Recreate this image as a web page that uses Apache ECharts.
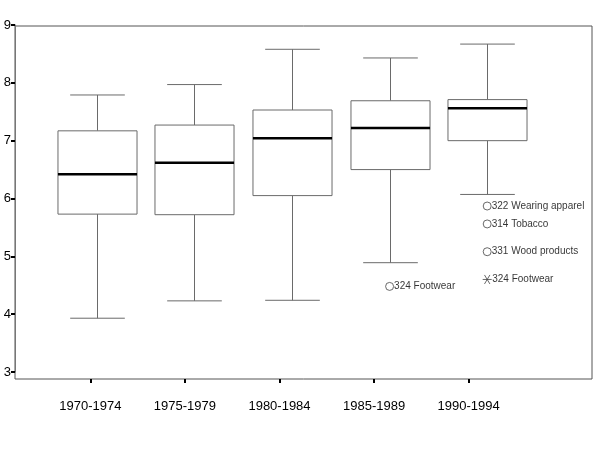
<!DOCTYPE html>
<html>
<head>
<meta charset="utf-8">
<style>
  html, body { margin: 0; padding: 0; background: #fff; }
  #main { width: 593px; height: 468px; }
</style>
<script src="https://cdn.jsdelivr.net/npm/echarts@6/dist/echarts.min.js"></script>
</head>
<body>
<div id="main"></div>
<script>
// 期间分类
var periods = ['1970-1974', '1975-1979', '1980-1984', '1985-1989', '1990-1994']
// 箱线图数值：下须, Q1, 中位数, Q3, 上须
var lowWhisker = [3.93, 4.23, 4.24, 4.89, 6.07]
var q1 = [5.73, 5.72, 6.05, 6.50, 7.00]
var median = [6.42, 6.62, 7.04, 7.22, 7.56]
var q3 = [7.17, 7.27, 7.53, 7.69, 7.71]
var highWhisker = [7.79, 7.97, 8.58, 8.43, 8.67]
// 离群点（圆圈）
var outlierIdx = [4, 4, 4, 3]
var outlierVal = [5.87, 5.56, 5.08, 4.48]
var outlierName = ['322 Wearing apparel', '314 Tobacco', '331 Wood products', '324 Footwear']
// 极端值（星号）
var extremeIdx = [4]
var extremeVal = [4.60]
var extremeName = ['324 Footwear']
// Y轴刻度
var yTicks = [3, 4, 5, 6, 7, 8, 9]

var boxData = periods.map(function (p, i) {
  return [i, lowWhisker[i], q1[i], median[i], q3[i], highWhisker[i]]
})
var outlierData = outlierIdx.map(function (c, i) {
  return { value: [c, outlierVal[i]], name: outlierName[i] }
})
var extremeData = extremeIdx.map(function (c, i) {
  return { value: [c, extremeVal[i]], name: extremeName[i] }
})

var lineColor = '#6a6a6a'
var labelFont = '"Liberation Sans", Arial, sans-serif'

function renderBox(params, api) {
  var x = api.value(0)
  var lo = api.coord([x, api.value(1)])
  var b1 = api.coord([x, api.value(2)])
  var md = api.coord([x, api.value(3)])
  var b3 = api.coord([x, api.value(4)])
  var hi = api.coord([x, api.value(5)])
  var band = api.size([1, 0])[0]
  var bw = band * 0.81
  var cw = band * 0.56
  var cx = Math.round(lo[0]) + 0.5
  var lineStyle = { stroke: lineColor, lineWidth: 1, fill: null }
  return {
    type: 'group',
    children: [
      // 须线
      { type: 'line', shape: { x1: cx, y1: hi[1], x2: cx, y2: b3[1] }, style: lineStyle },
      { type: 'line', shape: { x1: cx, y1: b1[1], x2: cx, y2: lo[1] }, style: lineStyle },
      { type: 'line', shape: { x1: cx - cw / 2, y1: hi[1], x2: cx + cw / 2, y2: hi[1] }, style: lineStyle },
      { type: 'line', shape: { x1: cx - cw / 2, y1: lo[1], x2: cx + cw / 2, y2: lo[1] }, style: lineStyle },
      // 箱体
      {
        type: 'rect',
        shape: { x: cx - bw / 2, y: b3[1], width: bw, height: b1[1] - b3[1] },
        style: { fill: '#fff', stroke: lineColor, lineWidth: 1 },
      },
      // 中位数
      {
        type: 'line',
        shape: { x1: cx - bw / 2, y1: md[1], x2: cx + bw / 2, y2: md[1] },
        style: { stroke: '#000', lineWidth: 2.5 },
      },
    ],
  }
}

var chart = echarts.init(document.getElementById('main'))
chart.setOption({
  animation: false,
  backgroundColor: '#fff',
  textStyle: { fontFamily: labelFont },
  grid: [
    // 箱线图区域
    { left: 48, right: 57, top: 25, bottom: 96 },
    // X轴标签区域
    { left: 43, right: 77, top: 26, bottom: 89 },
    // 外框
    { left: 15, right: 1, top: 26, bottom: 89, show: true, borderColor: '#555', borderWidth: 1 },
  ],
  xAxis: [
    { gridIndex: 0, type: 'category', data: periods, boundaryGap: true, show: false },
    {
      gridIndex: 1,
      type: 'category',
      data: periods,
      boundaryGap: true,
      axisLine: { show: false },
      axisTick: { show: true, alignWithLabel: true, length: 4, lineStyle: { color: '#000', width: 2 } },
      axisLabel: { color: '#000', fontSize: 13, margin: 21 },
    },
    { gridIndex: 2, type: 'value', show: false },
  ],
  yAxis: [
    {
      gridIndex: 0,
      type: 'value',
      min: yTicks[0],
      max: yTicks[yTicks.length - 1],
      interval: 1,
      offset: 33,
      axisLine: { show: true, lineStyle: { color: '#777' } },
      axisTick: { show: true, length: 4, lineStyle: { color: '#000', width: 2 } },
      axisLabel: { color: '#000', fontSize: 13, margin: 4 },
      splitLine: { show: false },
    },
    { gridIndex: 1, type: 'value', show: false },
    { gridIndex: 2, type: 'value', show: false },
  ],
  series: [
    {
      type: 'custom',
      xAxisIndex: 0,
      yAxisIndex: 0,
      renderItem: renderBox,
      encode: { x: 0, y: [1, 2, 3, 4, 5] },
      data: boxData,
    },
    {
      type: 'scatter',
      xAxisIndex: 0,
      yAxisIndex: 0,
      symbol: 'circle',
      symbolSize: 8,
      itemStyle: { color: '#fff', borderColor: '#444', borderWidth: 1 },
      label: {
        show: true,
        position: 'right',
        distance: 0,
        formatter: '{b}',
        color: '#000',
        fontSize: 10,
        fontFamily: labelFont,
      },
      data: outlierData,
    },
    {
      type: 'scatter',
      xAxisIndex: 0,
      yAxisIndex: 0,
      symbol: 'path://M0,5L10,5M2,0L8,10M2,10L8,0',
      symbolSize: 9,
      itemStyle: { color: 'none', borderColor: '#444', borderWidth: 1 },
      label: {
        show: true,
        position: 'right',
        distance: 0,
        offset: [-2, 0],
        formatter: '{b}',
        color: '#000',
        fontSize: 10,
        fontFamily: labelFont,
      },
      data: extremeData,
    },
  ],
})
</script>
</body>
</html>
